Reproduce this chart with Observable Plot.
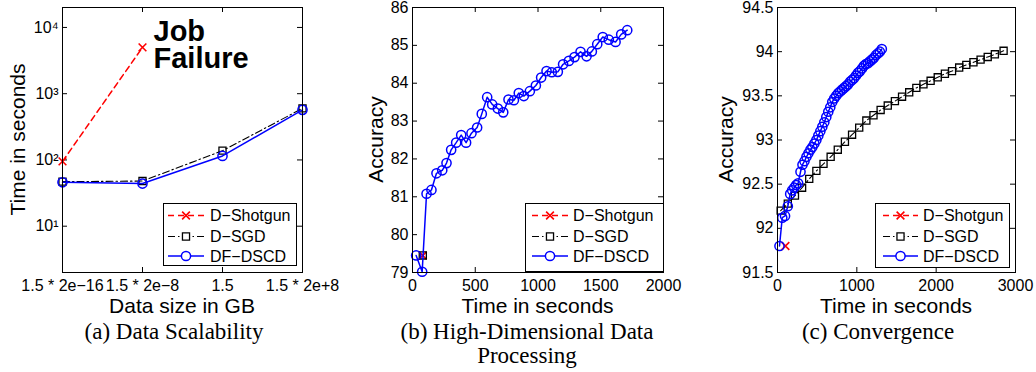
<!DOCTYPE html>
<html><head><meta charset="utf-8">
<script src="https://cdn.jsdelivr.net/npm/d3@7"></script>
<script src="https://cdn.jsdelivr.net/npm/@observablehq/plot@0.6"></script>
<style>
body{margin:0;background:#fff;}
#wrap{position:relative;width:1036px;height:372px;overflow:hidden;background:#fff;}
.panel{position:absolute;top:0;}
.panel svg{max-width:none !important;}
.cap{position:absolute;width:300px;font-family:"Liberation Serif","Times New Roman",serif;font-size:23px;line-height:24px;text-align:center;white-space:nowrap;color:#000;}
#overlay{position:absolute;left:0;top:0;pointer-events:none;}
</style></head><body><div id="wrap"></div>
<script>
// ---------- data ----------
const seriesNames = ["D−Shotgun", "D−SGD", "DF−DSCD"];
const seriesColors = ["#ff0000", "#000000", "#0000ff"];

// (a) Data Scalability
const sizeLabels = ["1.5 * 2e−16", "1.5 * 2e−8", "1.5", "1.5 * 2e+8"];
const shotgunTimeA = [95, 5000];
const sgdTimeA = [47, 48, 138, 600];
const dscdTimeA = [46, 44, 115, 570];

// (b) High-Dimensional Data Processing
const shotgunB_t = [82];
const shotgunB_acc = [79.45];
const sgdB_t = [82];
const sgdB_acc = [79.45];
const dscdB_t = [29, 77, 112, 151, 191, 237, 271, 308, 348, 388, 427, 470, 515, 552, 595, 635, 680, 723, 765, 808, 847, 887, 935, 983, 1025, 1068, 1110, 1158, 1200, 1246, 1291, 1339, 1387, 1429, 1472, 1516, 1564, 1618, 1663, 1711];
const dscdB_acc = [79.45, 79.02, 81.08, 81.18, 81.62, 81.7, 81.89, 82.24, 82.43, 82.63, 82.43, 82.68, 82.83, 83.19, 83.63, 83.44, 83.33, 83.23, 83.57, 83.55, 83.74, 83.66, 83.79, 83.94, 84.15, 84.32, 84.29, 84.3, 84.5, 84.59, 84.69, 84.83, 84.71, 84.84, 85.03, 85.22, 85.15, 85.09, 85.29, 85.4];

// (c) Convergence
const shotgunC_t = [100];
const shotgunC_acc = [91.8];
const sgdC_t = [40, 130, 220, 310, 400, 490, 580, 670, 760, 850, 940, 1030, 1120, 1210, 1300, 1390, 1480, 1570, 1660, 1750, 1840, 1930, 2020, 2110, 2200, 2290, 2380, 2470, 2560, 2650, 2740, 2850];
const sgdC_acc = [92.2, 92.28, 92.37, 92.46, 92.56, 92.65, 92.73, 92.81, 92.89, 92.98, 93.06, 93.14, 93.22, 93.28, 93.34, 93.39, 93.44, 93.49, 93.54, 93.59, 93.63, 93.67, 93.71, 93.75, 93.78, 93.82, 93.85, 93.88, 93.91, 93.94, 93.97, 94.01];
const dscdC_t = [25, 60, 95, 130, 160, 185, 210, 235, 260, 290, 315, 340, 365, 390, 415, 440, 465, 490, 515, 540, 565, 590, 615, 640, 665, 690, 715, 740, 765, 790, 815, 840, 865, 890, 915, 940, 965, 990, 1015, 1040, 1065, 1090, 1115, 1140, 1165, 1190, 1215, 1240, 1265, 1290, 1315];
const dscdC_acc = [91.8, 92.12, 92.14, 92.25, 92.39, 92.43, 92.46, 92.49, 92.51, 92.64, 92.72, 92.76, 92.81, 92.85, 92.89, 92.92, 92.96, 93.0, 93.05, 93.1, 93.15, 93.2, 93.26, 93.32, 93.37, 93.43, 93.47, 93.5, 93.53, 93.55, 93.57, 93.59, 93.61, 93.63, 93.66, 93.68, 93.7, 93.73, 93.76, 93.78, 93.81, 93.84, 93.86, 93.87, 93.89, 93.91, 93.93, 93.96, 93.98, 94.0, 94.03];

const xTicksA = [0, 1, 2, 3];
const yTicksA = [10, 100, 1000, 10000];
const xTicksB = [0, 500, 1000, 1500, 2000];
const yTicksB = [79, 80, 81, 82, 83, 84, 85, 86];
const xTicksC = [0, 1000, 2000, 3000];
const yTicksC = [91.5, 92, 92.5, 93, 93.5, 94, 94.5];

const xLabels = ["Data size in GB", "Time in seconds", "Time in seconds"];
const yLabels = ["Time in seconds", "Accuracy", "Accuracy"];
const captionTexts = ["(a) Data Scalability", "(b) High-Dimensional Data<br>Processing", "(c) Convergence"];

// ---------- helpers ----------
const zip = (xs, ys) => xs.map((x, i) => ({x, y: ys[i]}));
const sup = {"1": "¹", "2": "²", "3": "³", "4": "⁴"};
const FONT = "'Liberation Sans', Arial, Helvetica, sans-serif";

const styles = [
  {line: {stroke: seriesColors[0], strokeWidth: 1.5, strokeDasharray: "6,4"}, dot: {symbol: "times", r: 3.6, stroke: seriesColors[0], strokeWidth: 1.6}},
  {line: {stroke: seriesColors[1], strokeWidth: 1.1, strokeDasharray: "7,3,1.5,3"}, dot: {symbol: "square", r: 4, stroke: seriesColors[1], strokeWidth: 1.3, fill: "none"}},
  {line: {stroke: seriesColors[2], strokeWidth: 1.5}, dot: {symbol: "circle", r: 4.6, stroke: seriesColors[2], strokeWidth: 1.5, fill: "none"}}
];

function seriesMarks(datasets) {
  const m = [];
  datasets.forEach((d, i) => {
    if (!d) return;
    m.push(Plot.line(d, {x: "x", y: "y", ...styles[i].line}));
    m.push(Plot.dot(d, {x: "x", y: "y", ...styles[i].dot}));
  });
  return m;
}

function panel({left, width, ml, mr, x, y, xticks, yticks, xfmt, yfmt, marks}) {
  const H = 300, mt = 7, mb = 28;
  const fw = width - ml - mr, fh = H - mt - mb;
  const p = Plot.plot({
    width, height: H, marginLeft: ml, marginRight: mr, marginTop: mt, marginBottom: mb,
    style: {fontFamily: FONT, fontSize: "16px", color: "#000", background: "transparent", overflow: "visible"},
    x, y,
    marks: [
      Plot.axisX(xticks, {tickSize: 0, tickPadding: 7.5, tickFormat: xfmt, label: null}),
      Plot.axisY(yticks, {tickSize: 0, tickPadding: 4, tickFormat: yfmt, label: null}),
      Plot.tickX(xticks, {x: d => d, insetTop: fh - 5, stroke: "#000"}),
      Plot.tickX(xticks, {x: d => d, insetBottom: fh - 5, stroke: "#000"}),
      Plot.tickY(yticks, {y: d => d, insetLeft: fw - 5, stroke: "#000"}),
      Plot.tickY(yticks, {y: d => d, insetRight: fw - 5, stroke: "#000"}),
      ...marks,
      Plot.frame({stroke: "#000"})
    ]
  });
  const div = document.createElement("div");
  div.className = "panel";
  div.style.left = left + "px";
  div.style.width = width + "px";
  div.appendChild(p);
  document.getElementById("wrap").appendChild(div);
}

// ---------- panels ----------
panel({
  left: 0, width: 345, ml: 62, mr: 43,
  x: {domain: [0, 3]}, y: {type: "log", domain: [2, 20000]},
  xticks: xTicksA, yticks: yTicksA,
  xfmt: d => sizeLabels[d],
  yfmt: d => "10" + sup[String(Math.round(Math.log10(d)))],
  marks: [
    ...seriesMarks([
      zip([0, 1], shotgunTimeA),
      zip(xTicksA, sgdTimeA),
      zip(xTicksA, dscdTimeA)
    ]),
    Plot.text(["Job\nFailure"], {text: d => d, frameAnchor: "top-left", dx: 91, dy: 14.5, lineAnchor: "top", textAnchor: "start", fontSize: 29, fontWeight: "bold", lineHeight: 0.92})
  ]
});

panel({
  left: 350, width: 340, ml: 62, mr: 27,
  x: {domain: [0, 2000]}, y: {domain: [79, 86]},
  xticks: xTicksB, yticks: yTicksB,
  xfmt: d => String(d), yfmt: d => String(d),
  marks: seriesMarks([
    zip(shotgunB_t, shotgunB_acc),
    zip(sgdB_t, sgdB_acc),
    zip(dscdB_t, dscdB_acc)
  ])
});

panel({
  left: 690, width: 346, ml: 87, mr: 21,
  x: {domain: [0, 3000]}, y: {domain: [91.5, 94.5]},
  xticks: xTicksC, yticks: yTicksC,
  xfmt: d => String(d), yfmt: d => (d % 1 === 0 ? String(d) : d.toFixed(1)),
  marks: seriesMarks([
    zip(shotgunC_t, shotgunC_acc),
    zip(sgdC_t, sgdC_acc),
    zip(dscdC_t, dscdC_acc)
  ])
});

// ---------- overlay: axis titles + legends ----------
const wrap = document.getElementById("wrap");
const ov = d3.select(wrap).append("svg").attr("id", "overlay").attr("width", 1036).attr("height", 372)
  .attr("font-family", FONT).attr("font-size", 16);

const frames = [
  {cx: 182, left: 62, ylabX: 25},
  {cx: 537.5, left: 412, ylabX: 383},
  {cx: 896, left: 777, ylabX: 732.5}
];
frames.forEach((f, i) => {
  ov.append("text").attr("x", f.cx).attr("y", 313).attr("text-anchor", "middle")
    .attr("font-size", 21).attr("fill", "#000").text(xLabels[i]);
  ov.append("text").attr("transform", `translate(${f.ylabX},139.5) rotate(-90)`).attr("text-anchor", "middle")
    .attr("font-size", 21).attr("fill", "#000").text(yLabels[i]);
});

const legendBoxes = [
  {x: 163, y: 203, w: 133, h: 62, l1: 168, l2: 204, tx: 210},
  {x: 525, y: 203, w: 138, h: 68, l1: 532, l2: 568, tx: 573},
  {x: 875, y: 203, w: 134, h: 64, l1: 883, l2: 918, tx: 923}
];
const rowsY = [215.5, 236.5, 256];
const d3sym = {times: d3.symbolTimes, square: d3.symbolSquare, circle: d3.symbolCircle};
legendBoxes.forEach(b => {
  const g = ov.append("g");
  g.append("rect").attr("x", b.x + 0.5).attr("y", b.y + 0.5).attr("width", b.w).attr("height", b.h)
    .attr("fill", "#fff").attr("stroke", "#000");
  seriesNames.forEach((name, i) => {
    const yy = rowsY[i];
    const st = styles[i];
    g.append("line").attr("x1", b.l1).attr("x2", b.l2).attr("y1", yy).attr("y2", yy)
      .attr("stroke", st.line.stroke).attr("stroke-width", st.line.strokeWidth)
      .attr("stroke-dasharray", st.line.strokeDasharray || null);
    const r = st.dot.r;
    g.append("path").attr("d", d3.symbol(d3sym[st.dot.symbol], Math.PI * r * r)())
      .attr("transform", `translate(${(b.l1 + b.l2) / 2},${yy})`)
      .attr("fill", "#fff").attr("stroke", st.dot.stroke).attr("stroke-width", st.dot.strokeWidth);
    g.append("text").attr("x", b.tx).attr("y", yy).attr("dy", "0.35em").attr("fill", "#000").text(name);
  });
});

// ---------- captions ----------
const captionCenters = [174, 527, 878];
captionTexts.forEach((t, i) => {
  const d = document.createElement("div");
  d.className = "cap";
  d.style.left = (captionCenters[i] - 150) + "px";
  d.style.top = "320px";
  d.innerHTML = t;
  wrap.appendChild(d);
});
</script></body></html>
